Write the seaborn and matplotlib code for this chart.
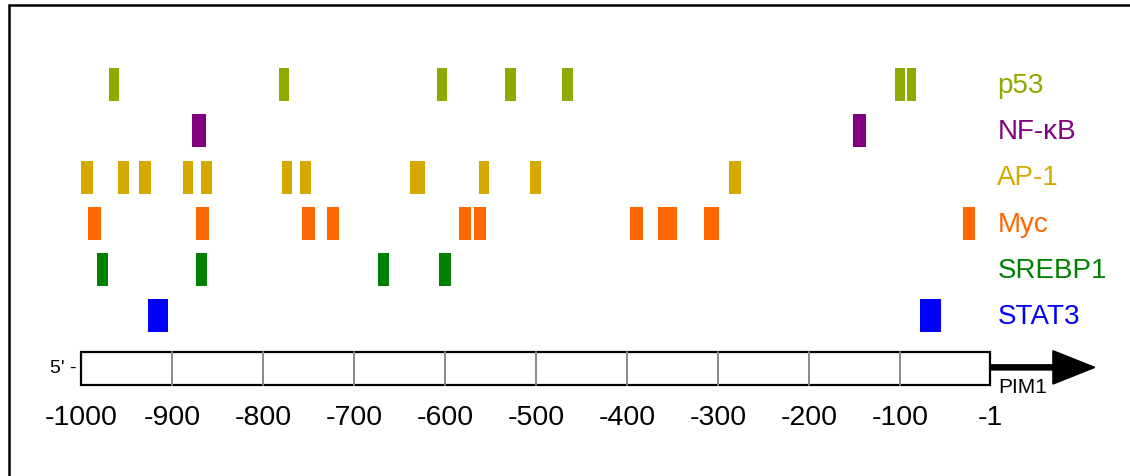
import matplotlib
matplotlib.use("Agg")
import matplotlib.pyplot as plt
from matplotlib.lines import Line2D
from matplotlib.patches import Rectangle
import pandas as pd
import seaborn as sns

# Transcription-factor binding sites in the PIM1 promoter (start, end in bp upstream of TSS)
factors = ["p53", "NF-\u03baB", "AP-1", "Myc", "SREBP1", "STAT3"]
colors = ["#8CAA00", "#800080", "#D4AA00", "#FF6600", "#008000", "#0000FF"]

p53_sites = [(-969, -958), (-782, -771), (-609, -598), (-534, -522),
             (-471, -459), (-106, -94), (-92, -82)]
nfkb_sites = [(-878, -863), (-152, -137)]
ap1_sites = [(-1000, -987), (-959, -947), (-936, -923), (-888, -877),
             (-868, -856), (-779, -768), (-759, -747), (-638, -622),
             (-563, -552), (-507, -495), (-288, -275)]
myc_sites = [(-992, -978), (-874, -859), (-757, -743), (-730, -717),
             (-585, -571), (-568, -555), (-397, -382), (-366, -345),
             (-315, -299), (-31, -18)]
srebp1_sites = [(-982, -970), (-874, -862), (-674, -662), (-607, -593)]
stat3_sites = [(-926, -904), (-78, -55)]

gene_name = "PIM1"
region_start, region_end = -1000, -1
tick_values = [-1000, -900, -800, -700, -600, -500, -400, -300, -200, -100, -1]
grid_values = [-900, -800, -700, -600, -500, -400, -300, -200, -100]

sites = [p53_sites, nfkb_sites, ap1_sites, myc_sites, srebp1_sites, stat3_sites]
rows = []
for i, (name, lst) in enumerate(zip(factors, sites)):
    for s, e in lst:
        rows.append({"factor": name, "row": i, "start": s, "end": e})
df = pd.DataFrame(rows)

sns.set_style("white")
plt.rcParams["font.family"] = ["Liberation Sans", "DejaVu Sans"]
plt.rcParams["text.color"] = "black"

fig = plt.figure(figsize=(11.30, 4.76), dpi=100)
ax = fig.add_axes([0, 0, 1, 1])
ax.set_xlim(-1089.0, 152.7)
ax.set_ylim(8.456, -1.825)
ax.axis("off")

bar_h = 0.713
palette = dict(zip(factors, colors))
for name, grp in df.groupby("factor", sort=False):
    ax.barh(grp["row"], grp["end"] - grp["start"], left=grp["start"],
            height=bar_h, color=palette[name], edgecolor="none")

# factor labels on the right
for i, (name, c) in enumerate(zip(factors, colors)):
    ax.text(7, i + 0.03, name, color=c, fontsize=20, ha="left", va="center")

# gene body with 100-bp gridlines
gene_y = 6.13
ax.add_patch(Rectangle((region_start, gene_y - bar_h / 2), region_end - region_start,
                       bar_h, facecolor="white", edgecolor="black", lw=1.6, zorder=2))
for g in grid_values:
    ax.plot([g, g], [gene_y - bar_h / 2, gene_y + bar_h / 2], color="#8a8a8a",
            lw=1.4, zorder=3)

# transcription direction arrow
ax.arrow(region_end, gene_y - 0.02, 114 - region_end, 0, width=0.11,
         head_width=0.72, head_length=46, length_includes_head=True,
         color="black", zorder=4)
ax.text(7.5, gene_y + 0.2, gene_name, fontsize=15, color="black",
        ha="left", va="top", zorder=5)
ax.text(-1005, gene_y, "5' -", fontsize=14, color="black", ha="right", va="center")

# position labels
for t in tick_values:
    ax.text(t, 7.2, str(t), fontsize=20.5, color="black", ha="center", va="center")

# frame lines along the top and left edges
fig.add_artist(Line2D([8.5 / 1130, 1], [1 - 5 / 476, 1 - 5 / 476],
                      transform=fig.transFigure, color="black", lw=1.8))
fig.add_artist(Line2D([8.5 / 1130, 8.5 / 1130], [0, 1 - 5 / 476],
                      transform=fig.transFigure, color="black", lw=1.8))

fig.savefig("out.png", dpi=100)
